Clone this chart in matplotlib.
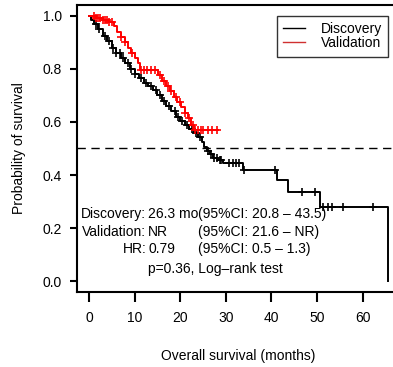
import numpy as np
import matplotlib
matplotlib.use('Agg')
import matplotlib.pyplot as plt
from matplotlib.lines import Line2D

plt.rcParams['font.family'] = ['Liberation Sans', 'DejaVu Sans']

# Kaplan-Meier step curves (time in months, survival)
disc_time = [0, 0.5, 1.2, 2, 3, 4, 5, 6, 7, 8, 9, 10, 11, 12, 13, 14, 15, 16,
             17, 18, 19, 20, 21, 22, 23, 24, 24.8, 25.3, 25.8, 26.5, 27.3,
             28.2, 29.3, 33.7, 41.2, 43.6, 50.7, 65.6]
disc_surv = [1.0, 0.985, 0.97, 0.95, 0.925, 0.905, 0.88, 0.86, 0.84, 0.82,
             0.80, 0.78, 0.765, 0.748, 0.735, 0.72, 0.70, 0.68, 0.66, 0.64,
             0.62, 0.605, 0.588, 0.572, 0.56, 0.545, 0.525, 0.505, 0.49,
             0.478, 0.465, 0.455, 0.447, 0.42, 0.382, 0.337, 0.281, 0.0]
disc_cens = [1.5, 2.2, 3.5, 4.5, 5.2, 6.0, 6.8, 7.5, 8.5, 9.3, 10.2, 11.5,
             12.5, 13.5, 14.6, 15.5, 16.5, 17.5, 18.8, 19.5, 20.3, 21.5, 22.5,
             23.5, 24.3, 26.0, 26.8, 27.5, 28.0, 28.7, 29.0, 30.8, 31.5, 32.3,
             33.0, 34.0, 40.9, 46.7, 49.6, 51.3, 52.4, 53.3, 55.7, 62.3]

val_time = [0, 1.5, 3, 4.5, 5.5, 6.2, 7, 7.8, 8.5, 9.3, 10, 10.7, 11.2, 15.2,
            16, 17, 17.8, 18.6, 19.4, 20.2, 21, 21.8, 22.4, 23, 28.2]
val_surv = [1.0, 0.992, 0.985, 0.975, 0.96, 0.94, 0.92, 0.90, 0.88, 0.86,
            0.84, 0.82, 0.795, 0.775, 0.755, 0.735, 0.715, 0.695, 0.675,
            0.655, 0.635, 0.615, 0.59, 0.569, 0.569]
val_cens = [1, 1.5, 2, 2.5, 3, 3.5, 4, 4.5, 5, 7, 8, 9.5, 11.5, 12, 12.8,
            13.5, 14.5, 15.5, 16.5, 17.3, 18, 19, 20, 21, 22, 22.8, 23.3, 24,
            24.5, 25, 26, 27, 28]

x_ticks = [0, 10, 20, 30, 40, 50, 60]
y_ticks = [0.0, 0.2, 0.4, 0.6, 0.8, 1.0]


def surv_at(times, surv, t):
    idx = np.searchsorted(times, t, side='right') - 1
    return np.asarray(surv)[idx]


W, H = 393, 367
fig = plt.figure(figsize=(W / 100, H / 100), dpi=100)
# plot box: left 77 px, top 5 px, bottom 292 px, right edge beyond the image
ax = fig.add_axes([77 / W, 1 - 292 / H, (400 - 77) / W, (292 - 5) / H])

ax.step(disc_time, disc_surv, where='post', color='black', lw=1.4)
ax.plot(disc_cens, surv_at(disc_time, disc_surv, disc_cens), '+',
        color='black', ms=6, mew=1.2)
ax.step(val_time, val_surv, where='post', color='red', lw=1.4)
ax.plot(val_cens, surv_at(val_time, val_surv, val_cens), '+',
        color='red', ms=6, mew=1.2)

ax.axhline(0.5, color='black', lw=1, ls=(0, (6, 4)))

ax.set_xlim(-2.62, 68.2)
ax.set_ylim(-0.04, 1.04)
ax.set_xticks(x_ticks)
ax.set_yticks(y_ticks)
ax.set_yticklabels([f'{v:.1f}' for v in y_ticks])
ax.tick_params(axis='x', length=7, width=1.5, pad=7, labelsize=10)
ax.tick_params(axis='y', length=5, width=1.5, pad=6, labelsize=10)
for s in ax.spines.values():
    s.set_linewidth(1.5)

ax.set_xlabel('Overall survival (months)', fontsize=10, labelpad=17)
ax.set_ylabel('Probability of survival', fontsize=10, labelpad=12)

fs = 10
ax.text(12.55, 0.255, 'Discovery:', ha='right', va='center', fontsize=fs)
ax.text(13.0, 0.255, '26.3 mo', ha='left', va='center', fontsize=fs)
ax.text(24.0, 0.255, '(95%CI: 20.8 \u2013 43.5)', ha='left', va='center', fontsize=fs)
ax.text(12.55, 0.187, 'Validation:', ha='right', va='center', fontsize=fs)
ax.text(13.0, 0.187, 'NR', ha='left', va='center', fontsize=fs)
ax.text(24.0, 0.187, '(95%CI: 21.6 \u2013 NR)', ha='left', va='center', fontsize=fs)
ax.text(12.55, 0.12, 'HR:', ha='right', va='center', fontsize=fs)
ax.text(13.0, 0.12, '0.79', ha='left', va='center', fontsize=fs)
ax.text(24.0, 0.12, '(95%CI: 0.5 \u2013 1.3)', ha='left', va='center', fontsize=fs)
ax.text(13.0, 0.045, 'p=0.36, Log\u2013rank test', ha='left', va='center', fontsize=fs)

handles = [Line2D([], [], color='black', lw=1),
           Line2D([], [], color='#d03030', lw=1)]
leg = ax.legend(handles, ['Discovery', 'Validation'], loc='upper right',
                bbox_to_anchor=(388 / W, 1 - 16 / H), bbox_transform=fig.transFigure,
                fontsize=10, fancybox=False, frameon=True, edgecolor='black',
                handlelength=1.6, handletextpad=1.1, labelspacing=0.0,
                borderpad=0.45, borderaxespad=0)
leg.get_frame().set_linewidth(1.0)

fig.savefig('out.png', dpi=100)
